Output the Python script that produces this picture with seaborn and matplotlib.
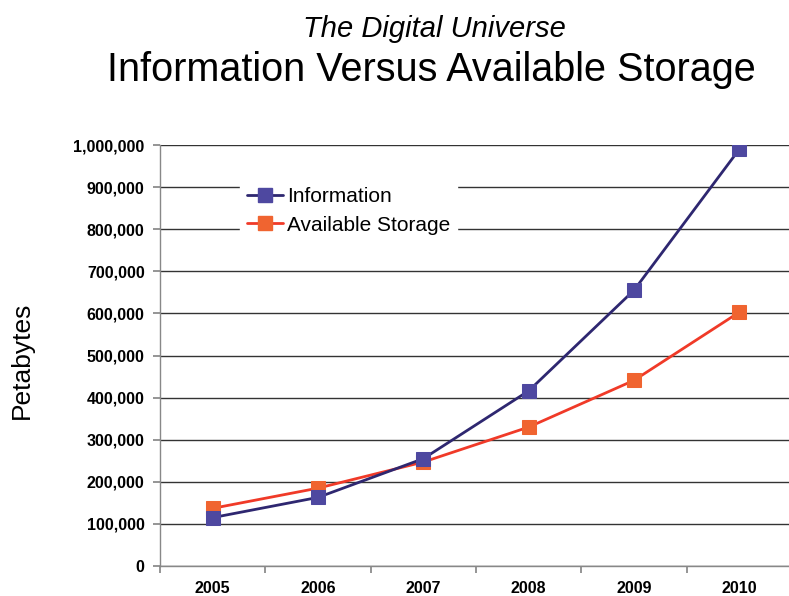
import matplotlib
matplotlib.use("Agg")
import matplotlib.pyplot as plt
import seaborn as sns
import pandas as pd
from matplotlib.lines import Line2D
from matplotlib.ticker import FuncFormatter, MultipleLocator

years = ["2005", "2006", "2007", "2008", "2009", "2010"]
information = [115000, 163000, 255000, 416000, 655000, 990000]
storage = [137000, 185000, 247000, 330000, 441000, 603000]

sns.set_theme(style="white")
plt.rcParams['font.family'] = ['Liberation Sans', 'DejaVu Sans']
plt.rcParams['text.color'] = 'black'
plt.rcParams['xtick.color'] = 'black'
plt.rcParams['ytick.color'] = 'black'

fig = plt.figure(figsize=(7.89, 5.96), dpi=100)
ax = fig.add_axes([0.2028, 0.0503, 0.801, 0.7064])

info_line = "#2E2770"
info_mark = "#4E48A0"
stor_line = "#F03A28"
stor_mark = "#F06430"

df_i = pd.DataFrame({"year": years, "value": information})
df_s = pd.DataFrame({"year": years, "value": storage})
sns.lineplot(data=df_i, x="year", y="value", ax=ax, color=info_line, lw=2,
             marker="s", markersize=9.5, markerfacecolor=info_mark,
             markeredgecolor=info_mark, zorder=4)
sns.lineplot(data=df_s, x="year", y="value", ax=ax, color=stor_line, lw=2,
             marker="s", markersize=9.5, markerfacecolor=stor_mark,
             markeredgecolor=stor_mark, zorder=3)

ax.set_xlim(-0.5, 5.5)
ax.set_ylim(0, 1000000)
ax.yaxis.set_major_locator(MultipleLocator(100000))
ax.yaxis.set_major_formatter(FuncFormatter(lambda v, p: f"{int(v):,}"))
ax.grid(axis="y", color="#333333", lw=1)
ax.set_axisbelow(True)
for s in ["top", "right"]:
    ax.spines[s].set_visible(False)
for s in ["left", "bottom"]:
    ax.spines[s].set_color("#888888")
    ax.spines[s].set_linewidth(1)
ax.set_xticks([x - 0.5 for x in range(6)], minor=False)
ax.set_xticklabels([])
ax.set_xticks(range(6), minor=True)
ax.set_xticklabels(years, minor=True)
ax.tick_params(axis="x", which="major", length=5, color="#888888", direction="out")
ax.tick_params(axis="x", which="minor", length=0, pad=11, labelsize=11.5)
ax.tick_params(axis="y", length=5, color="#888888", direction="out", labelsize=11.5, pad=6)
ax.tick_params(axis="both", which="both", bottom=True, left=True)
for lab in ax.get_xticklabels(minor=True) + ax.get_yticklabels():
    lab.set_fontweight("bold")
ax.set_xlabel("")
ax.set_ylabel("")
fig.text(0.028, 0.396, "Petabytes", rotation=90, fontsize=19, va="center", ha="center")

fig.text(0.551, 0.951, "The Digital Universe", fontsize=21, style="italic",
         ha="center", va="center")
fig.text(0.547, 0.882, "Information Versus Available Storage", fontsize=28.5,
         ha="center", va="center")

handles = [
    Line2D([], [], color=info_line, lw=2, marker="s", markersize=9.5,
           markerfacecolor=info_mark, markeredgecolor=info_mark),
    Line2D([], [], color=stor_line, lw=2, marker="s", markersize=9.5,
           markerfacecolor=stor_mark, markeredgecolor=stor_mark),
]
leg = ax.legend(handles, ["Information", "Available Storage"], loc="upper left",
                bbox_to_anchor=(0.110, 0.942), frameon=True, fontsize=15,
                handlelength=1.7, handletextpad=0.2, labelspacing=0.45,
                borderpad=0.35, fancybox=False)
leg.get_frame().set_facecolor("white")
leg.get_frame().set_edgecolor("white")
leg.get_frame().set_alpha(1)

fig.savefig("out.png", dpi=100, facecolor="white")
